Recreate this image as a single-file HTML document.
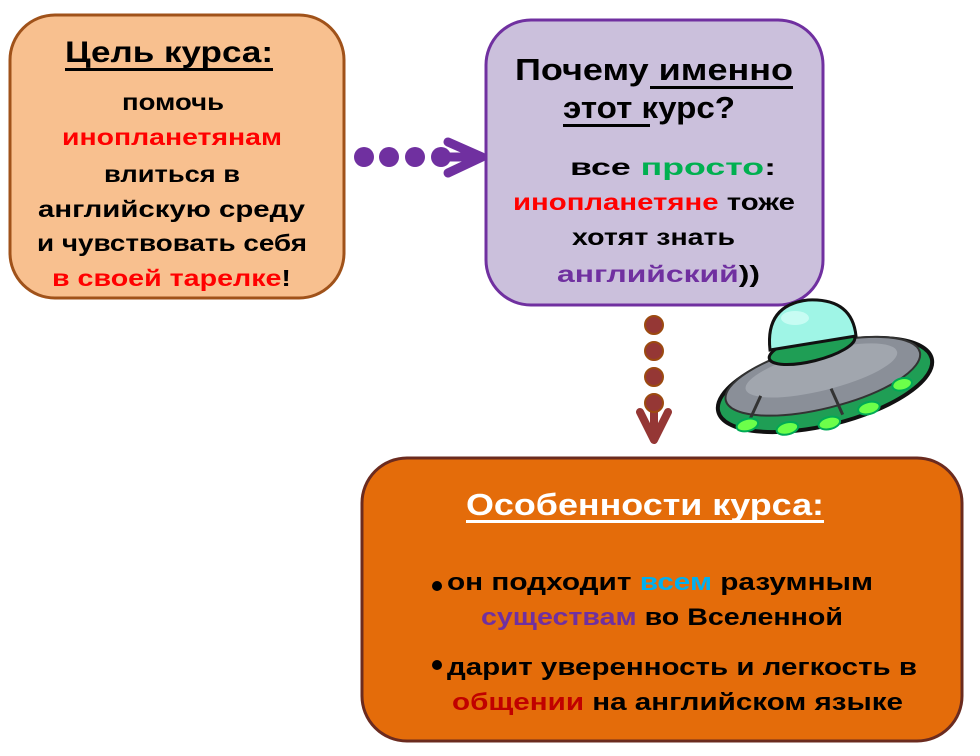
<!DOCTYPE html>
<html><head><meta charset="utf-8"><style>
html,body{margin:0;padding:0;background:#fff;}
svg text{font-family:"Liberation Sans","DejaVu Sans",sans-serif;font-weight:bold;}
</style></head><body>
<svg width="980" height="751" viewBox="0 0 980 751" xmlns="http://www.w3.org/2000/svg">
<!-- box 1 -->
<rect x="10" y="15" width="334" height="283" rx="45" fill="#f8c08f" stroke="#a0521a" stroke-width="3"/>
<text x="65" y="62" font-size="30" textLength="208" lengthAdjust="spacingAndGlyphs" fill="#000">Цель курса:</text>
<rect x="65" y="68" width="208" height="3" fill="#000"/>
<text x="122" y="110" font-size="23" textLength="102" lengthAdjust="spacingAndGlyphs">помочь</text>
<text x="62" y="145" font-size="23" textLength="220" lengthAdjust="spacingAndGlyphs" fill="#ff0000">инопланетянам</text>
<text x="104" y="182" font-size="23" textLength="136" lengthAdjust="spacingAndGlyphs">влиться в</text>
<text x="38" y="217" font-size="23" textLength="267" lengthAdjust="spacingAndGlyphs">английскую среду</text>
<text x="37" y="251" font-size="23" textLength="270" lengthAdjust="spacingAndGlyphs">и чувствовать себя</text>
<text x="52" y="286" font-size="23" textLength="239" lengthAdjust="spacingAndGlyphs"><tspan fill="#ff0000">в своей тарелке</tspan>!</text>
<!-- purple dots arrow -->
<g fill="#7030a0"><circle cx="364" cy="157" r="10"/><circle cx="389" cy="157" r="10"/><circle cx="415" cy="157" r="10"/><circle cx="441" cy="157" r="10"/></g>
<path d="M448 142 L482 157 L448 173" fill="none" stroke="#7030a0" stroke-width="9" stroke-linecap="round" stroke-linejoin="round"/>
<line x1="440" y1="157" x2="478" y2="157" stroke="#7030a0" stroke-width="9"/>
<!-- box 2 -->
<rect x="486" y="20" width="337" height="285" rx="45" fill="#cbc0dc" stroke="#7030a0" stroke-width="3"/>
<text x="515" y="80" font-size="31" textLength="278" lengthAdjust="spacingAndGlyphs">Почему именно</text>
<rect x="650" y="86" width="143" height="3" fill="#000"/>
<text x="563" y="118" font-size="31" textLength="172" lengthAdjust="spacingAndGlyphs">этот курс?</text>
<rect x="563" y="124" width="87" height="3" fill="#000"/>
<text x="570" y="175" font-size="23" textLength="206" lengthAdjust="spacingAndGlyphs">все <tspan fill="#00b050">просто</tspan>:</text>
<text x="513" y="210" font-size="23" textLength="282" lengthAdjust="spacingAndGlyphs"><tspan fill="#ff0000">инопланетяне</tspan> тоже</text>
<text x="572" y="245" font-size="23" textLength="163" lengthAdjust="spacingAndGlyphs">хотят знать</text>
<text x="557" y="282" font-size="23" textLength="203" lengthAdjust="spacingAndGlyphs"><tspan fill="#7030a0">английский</tspan>))</text>
<!-- brown dots arrow -->
<path d="M640 412 L654 440 L668 412" fill="none" stroke="#953735" stroke-width="8" stroke-linecap="round" stroke-linejoin="round"/>
<line x1="654" y1="405" x2="654" y2="436" stroke="#953735" stroke-width="8"/>
<g fill="#953735" stroke="#9c4a10" stroke-width="2"><circle cx="654" cy="325" r="9"/><circle cx="654" cy="351" r="9"/><circle cx="654" cy="377" r="9"/><circle cx="654" cy="403" r="9"/></g>
<!-- UFO -->
<g transform="rotate(-14 825 385)">
<ellipse cx="825" cy="385" rx="110" ry="40" fill="#1f9e55" stroke="#111" stroke-width="4"/>
<ellipse cx="825" cy="376" rx="100" ry="32" fill="#8a8f98" stroke="#333" stroke-width="2"/>
<ellipse cx="825" cy="370" rx="78" ry="20" fill="#a1a6ae"/>
<line x1="760" y1="380" x2="740" y2="405" stroke="#333" stroke-width="3"/>
<line x1="830" y1="390" x2="835" y2="418" stroke="#333" stroke-width="3"/>
<g fill="#6cff4a" stroke="#0a5" stroke-width="2">
<ellipse cx="740" cy="405" rx="11" ry="6"/><ellipse cx="778" cy="418" rx="11" ry="6"/><ellipse cx="820" cy="423" rx="11" ry="6"/><ellipse cx="862" cy="418" rx="11" ry="6"/><ellipse cx="900" cy="403" rx="10" ry="6"/>
</g>
</g>
<ellipse cx="812" cy="348" rx="44" ry="13" transform="rotate(-14 812 348)" fill="#1f9e55" stroke="#111" stroke-width="3"/>
<path d="M770 350 Q765 305 808 300 Q852 298 856 336 Z" fill="#9ff5e6" stroke="#111" stroke-width="3"/>
<ellipse cx="795" cy="318" rx="14" ry="7" fill="#d8fff8" opacity="0.7"/>
<!-- box 3 -->
<rect x="362" y="458" width="600" height="283" rx="45" fill="#e46c0a" stroke="#6b2b1f" stroke-width="3"/>
<text x="466" y="515" font-size="31" textLength="358" lengthAdjust="spacingAndGlyphs" fill="#fff">Особенности курса:</text>
<rect x="466" y="520" width="358" height="3" fill="#fff"/>
<circle cx="437" cy="586" r="5" fill="#000"/>
<text x="447" y="590" font-size="24" textLength="426" lengthAdjust="spacingAndGlyphs">он подходит <tspan fill="#00b0f0">всем</tspan> разумным</text>
<text x="481" y="625" font-size="24" textLength="362" lengthAdjust="spacingAndGlyphs"><tspan fill="#7030a0">существам</tspan> во Вселенной</text>
<circle cx="437" cy="665" r="5" fill="#000"/>
<text x="447" y="675" font-size="24" textLength="470" lengthAdjust="spacingAndGlyphs">дарит уверенность и легкость в</text>
<text x="452" y="710" font-size="24" textLength="451" lengthAdjust="spacingAndGlyphs"><tspan fill="#c00000">общении</tspan> на английском языке</text>
</svg>
</body></html>
